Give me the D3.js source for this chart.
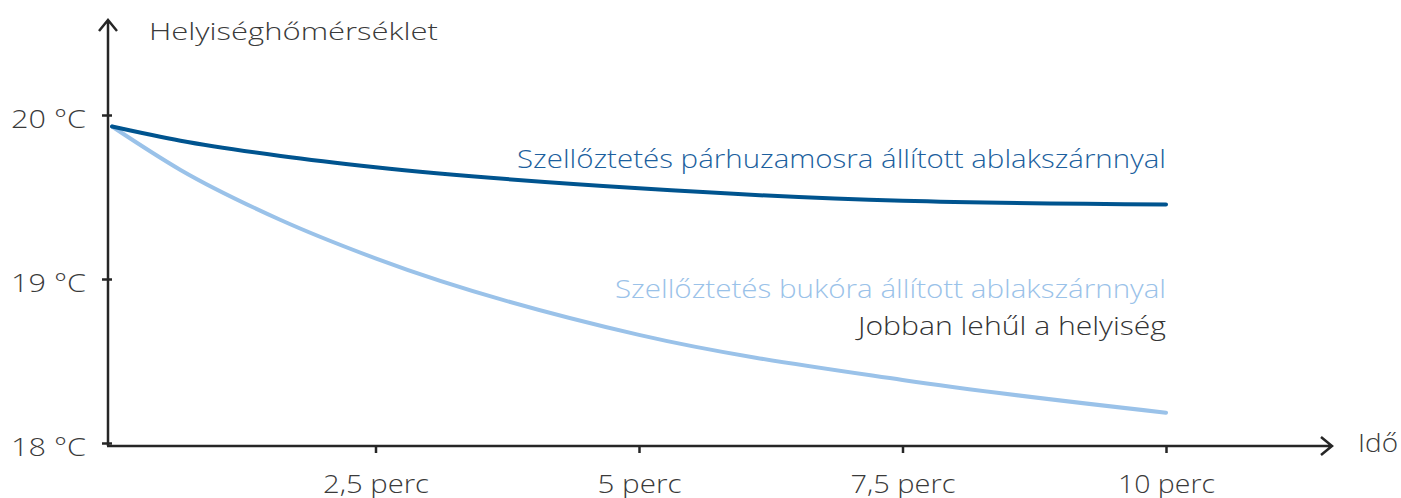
<html>
<head>
<meta charset="utf-8">
<style>
  body { margin: 0; background: #fff; }
  svg text { font-family: "Open Sans", Lato, sans-serif; font-weight: 300; }
  .axis line, .axis-line { stroke: #262626; stroke-width: 2.5px; fill: none; }
  .axis text { fill: #3a3a3a; font-size: 26px; }
</style>
<script src="https://cdn.jsdelivr.net/npm/d3@7"></script>
</head>
<body>
<svg id="chart"></svg>
<script>
var width = 1401;
var height = 498;

// minutes vs room temperature
var times = [0, 0.65, 1.6, 2.5, 5, 7.5, 10];
var parallel = [19.93, 19.843, 19.75, 19.681, 19.553, 19.477, 19.455]; // ablak parhuzamosra allitva
var tilted = [19.93, 19.665, 19.36, 19.126, 18.659, 18.384, 18.185]; // ablak bukora allitva

var xTicks = [2.5, 5, 7.5, 10];
var xTickLabels = ["2,5 perc", "5 perc", "7,5 perc", "10 perc"];
var xLabelWidths = [106, 84, 105, 97];
var yTicks = [18, 19, 20];
var yTickLabels = ["18 °C", "19 °C", "20 °C"];

var axisX = 108, axisY = 446;

var svg = d3.select("#chart").attr("width", width).attr("height", height);

var x = d3.scaleLinear().domain([0, 10]).range([112, 1166]);
var y = d3.scaleLinear().domain([18, 20]).range([443, 115]);

// y axis
var yAxis = svg.append("g")
    .attr("class", "axis")
    .attr("transform", "translate(" + axisX + ",0)")
    .call(d3.axisLeft(y).tickValues(yTicks).tickSize(6).tickPadding(16)
      .tickFormat(function(d, i) { return yTickLabels[i]; }));
yAxis.select(".domain").remove();
yAxis.selectAll("line").attr("x1", 4);
yAxis.selectAll("text").attr("dy", 12.5)
  .attr("textLength", 75).attr("lengthAdjust", "spacingAndGlyphs");

// x axis
var xAxis = svg.append("g")
    .attr("class", "axis")
    .attr("transform", "translate(0," + axisY + ")")
    .call(d3.axisBottom(x).tickValues(xTicks).tickSize(7)
      .tickFormat(function(d, i) { return xTickLabels[i]; }));
xAxis.select(".domain").remove();
xAxis.selectAll("text").attr("y", 47).attr("dy", 0)
  .attr("textLength", function(d, i) { return xLabelWidths[i]; })
  .attr("lengthAdjust", "spacingAndGlyphs");

// axis lines with open arrow heads
svg.append("path").attr("class", "axis-line")
  .attr("d", "M" + axisX + "," + axisY + "V20M99,31L" + axisX + ",20L117,31");
svg.append("path").attr("class", "axis-line")
  .attr("d", "M" + (axisX - 1) + "," + axisY + "H1332M1321,437L1332," + axisY + "L1321,455");

svg.append("text").attr("x", 149).attr("y", 40)
  .attr("fill", "#3a3a3a").style("font-size", "24px")
  .attr("textLength", 289).attr("lengthAdjust", "spacingAndGlyphs")
  .text("Helyiséghőmérséklet");

svg.append("text").attr("x", 1358).attr("y", 452)
  .attr("fill", "#3a3a3a").style("font-size", "26px")
  .attr("textLength", 40).attr("lengthAdjust", "spacingAndGlyphs")
  .text("Idő");

var line = d3.line()
  .x(function(d, i) { return x(times[i]); })
  .y(function(d) { return y(d); })
  .curve(d3.curveMonotoneX);

svg.append("path").datum(tilted)
  .attr("d", line).attr("fill", "none")
  .attr("stroke", "#9ac2e9").attr("stroke-width", 4).attr("stroke-linecap", "round");

svg.append("path").datum(parallel)
  .attr("d", line).attr("fill", "none")
  .attr("stroke", "#00548f").attr("stroke-width", 4).attr("stroke-linecap", "round");

// labels
function label(txt, yy, color, len) {
  svg.append("text").attr("x", 1166).attr("y", yy)
    .attr("text-anchor", "end").attr("fill", color)
    .style("font-size", "26px")
    .attr("textLength", len).attr("lengthAdjust", "spacingAndGlyphs")
    .text(txt);
}
label("Szellőztetés párhuzamosra állított ablakszárnnyal", 168, "#1c5f9e", 649);
label("Szellőztetés bukóra állított ablakszárnnyal", 298, "#9ac2e9", 551);
label("Jobban lehűl a helyiség", 335, "#333333", 308);
</script>
</body>
</html>
